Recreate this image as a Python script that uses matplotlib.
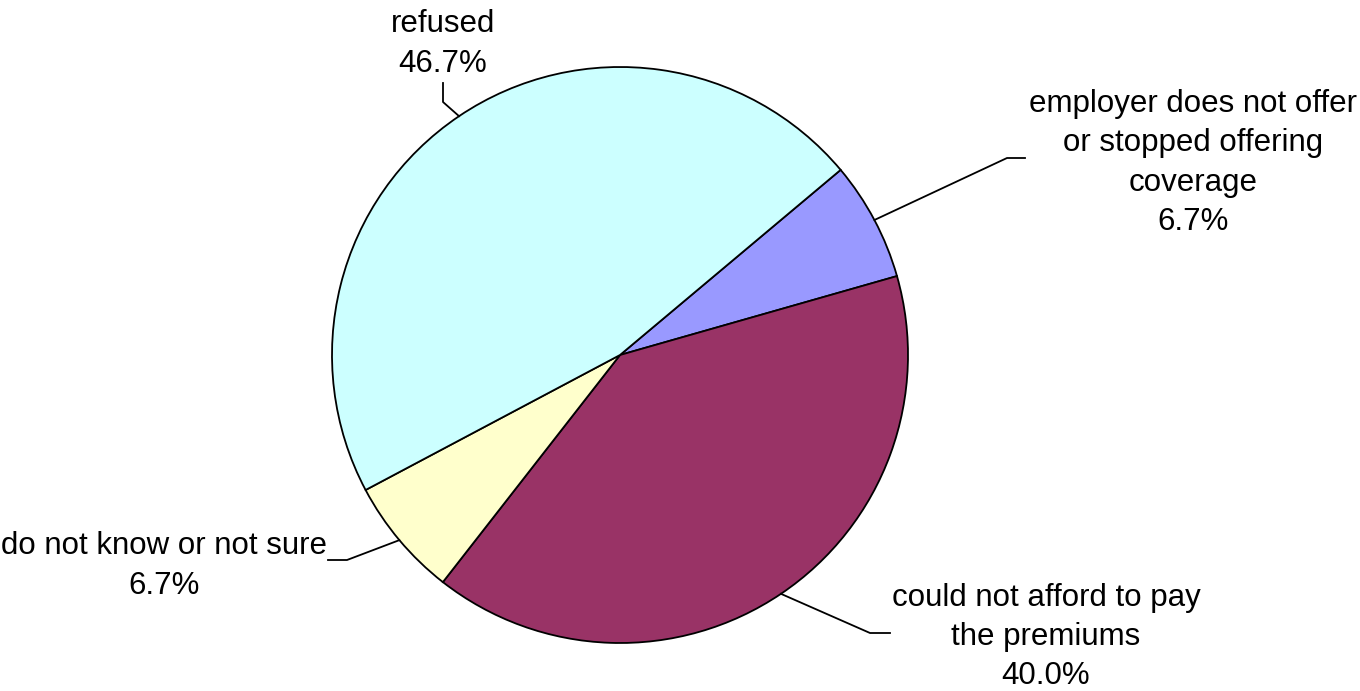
import numpy as np
import matplotlib
matplotlib.use('Agg')
import matplotlib.pyplot as plt

# slice data (clockwise from the top-right)
labels = ['employer does not offer\nor stopped offering\ncoverage',
          'could not afford to pay\nthe premiums',
          'do not know or not sure',
          'refused']
values = [6.7, 40.0, 6.7, 46.7]
colors = ['#9999FF', '#993366', '#FFFFCC', '#CCFFFF']

# label layout in pixel space (x, y from top)
text_pos = [(1193, 163), (1046, 637), (164, 566), (443, 44)]
elbows = [((1007, 158), (1025, 158)),
          ((870, 633), (890, 633)),
          ((347, 560), (328, 560)),
          ((443, 102), (443, 83))]

W, H = 1360, 691
fig = plt.figure(figsize=(13.6, 6.91), dpi=100)
ax = fig.add_axes([0, 0, 1, 1])

cx, cy, r = 620, H - 355, 288
wedges, _ = ax.pie(values, colors=colors, startangle=40, counterclock=False,
                   center=(cx, cy), radius=r, frame=True,
                   wedgeprops=dict(edgecolor='black', linewidth=1.3))
ax.set_xlim(0, W)
ax.set_ylim(0, H)
ax.set_aspect('equal')
ax.axis('off')

for w, lab, val, (tx, ty), (e1, e2) in zip(wedges, labels, values, text_pos, elbows):
    ang = np.deg2rad((w.theta1 + w.theta2) / 2)
    px, py = cx + r * np.cos(ang), cy + r * np.sin(ang)
    ax.plot([px, e1[0], e2[0]], [py, H - e1[1], H - e2[1]], color='black', lw=1.3)
    ax.text(tx, H - ty, f'{lab}\n{val:.1f}%', ha='center', va='center',
            multialignment='center', fontsize=22.5, linespacing=1.4,
            family=['Liberation Sans', 'DejaVu Sans'])

fig.savefig('out.png', dpi=100, facecolor='white')
